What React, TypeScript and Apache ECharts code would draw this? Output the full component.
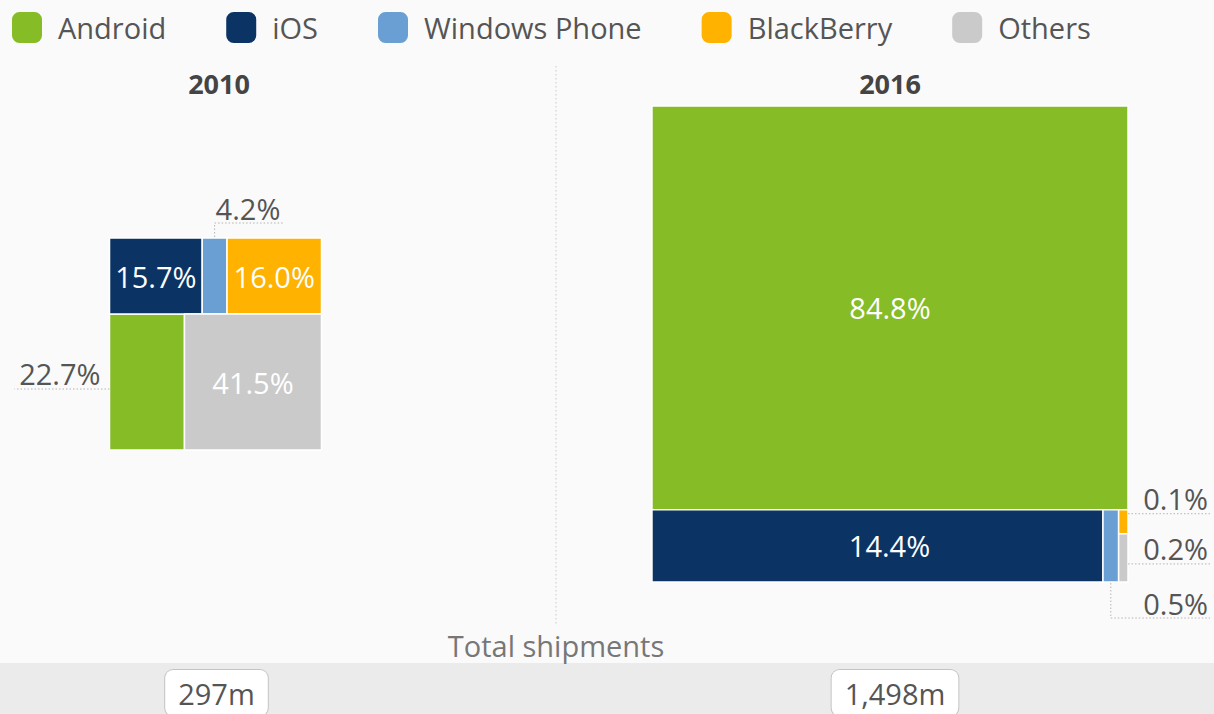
import React, { useEffect, useRef } from "react";
import * as echarts from "echarts";

// ---------- data ----------
const years = ["2010", "2016"];
const totals = [297, 1498]; // total shipments, million units
const totalLabels = ["297m", "1,498m"];
const categories = ["Android", "iOS", "Windows Phone", "BlackBerry", "Others"];
const share2010 = [22.7, 15.7, 4.2, 16.0, 41.5];
const share2016 = [84.8, 14.4, 0.5, 0.1, 0.2];
const colors = ["#86bc25", "#0b3465", "#6a9fd4", "#ffb200", "#cacaca"];

// treemap arrangement: rows top to bottom, a nested list is a stacked column
const layout2010: any[] = [["iOS", "Windows Phone", "BlackBerry"], ["Android", "Others"]];
const layout2016: any[] = [["Android"], ["iOS", "Windows Phone", ["BlackBerry", "Others"]]];

// label placement (style)
const outsideLabels: Record<string, { side: string; dy?: number }> = {
  "0|Windows Phone": { side: "top" },
  "0|Android": { side: "left", dy: 7 },
  "1|BlackBerry": { side: "right", dy: -8 },
  "1|Others": { side: "right", dy: 6 },
  "1|Windows Phone": { side: "below" },
};
const insideOffsets: Record<string, number> = { "1|iOS": 12 };

function computeRects(shares: number[], layout: any[]) {
  const val = (n: string) => shares[categories.indexOf(n)];
  const sum = (items: any[]): number =>
    items.reduce((s: number, it: any) => s + (Array.isArray(it) ? sum(it) : val(it)), 0);
  const total = sum(layout);
  const out: Record<string, number[]> = {};
  let y = 0;
  for (const row of layout) {
    const rs = sum(row);
    const h = rs / total;
    let x = 0;
    for (const it of row) {
      const v = Array.isArray(it) ? sum(it) : val(it);
      const w = v / rs;
      if (Array.isArray(it)) {
        let yy = y;
        for (const n of it) {
          const hh = (h * val(n)) / v;
          out[n] = [x, yy, x + w, yy + hh, val(n)];
          yy += hh;
        }
      } else {
        out[it] = [x, y, x + w, y + h, val(it)];
      }
      x += w;
    }
    y += h;
  }
  return out;
}

export default function App() {
  const ref = useRef<HTMLDivElement>(null);
  useEffect(() => {
    document.body.style.margin = "0";
    const chart = echarts.init(ref.current!, null, { renderer: "svg" });
    const FONT = "Open Sans";
    const FS = 29;
    const K = 12.3; // px per sqrt(million units)
    const centersX = [215.5, 890];
    const centerY = 344;
    const rects = [computeRects(share2010, layout2010), computeRects(share2016, layout2016)];
    const sides = totals.map((t) => K * Math.sqrt(t));

    const grids = years.map((_, i) => ({
      left: centersX[i] - sides[i] / 2,
      top: centerY - sides[i] / 2,
      width: sides[i],
      height: sides[i],
    }));
    const xAxes = years.map((_, i) => ({ gridIndex: i, type: "value", min: 0, max: 1, show: false }));
    const yAxes = years.map((_, i) => ({ gridIndex: i, type: "value", min: 0, max: 1, inverse: true, show: false }));

    const dotted = { stroke: "#b4b4b4", lineWidth: 1, lineDash: [1.5, 2] };
    const outText = (text: string, x: number, y: number, align: string) => ({
      type: "text",
      x,
      y,
      style: { text, fill: "#555", fontSize: FS, fontFamily: FONT, align, verticalAlign: "middle" },
    });

    const makeRender = (yi: number, cat: string) => (params: any, api: any) => {
      const p0 = api.coord([api.value(0), api.value(1)]);
      const p1 = api.coord([api.value(2), api.value(3)]);
      const share = api.value(4);
      const rx = p0[0];
      const ry = Math.min(p0[1], p1[1]);
      const rw = p1[0] - p0[0];
      const rh = Math.abs(p1[1] - p0[1]);
      const label = share.toFixed(1) + "%";
      const children: any[] = [
        {
          type: "rect",
          shape: { x: rx, y: ry, width: rw, height: rh },
          style: { fill: api.visual("color"), stroke: "#fff", lineWidth: 1.5 },
        },
      ];
      const key = yi + "|" + cat;
      const cfg = outsideLabels[key];
      const grid = grids[yi];
      const gridRight = grid.left + grid.width;
      if (!cfg) {
        children.push({
          type: "text",
          x: rx + rw / 2 + (insideOffsets[key] || 0),
          y: ry + rh / 2,
          style: { text: label, fill: "#fff", fontSize: FS, fontFamily: FONT, align: "center", verticalAlign: "middle" },
        });
      } else if (cfg.side === "top") {
        const ax = rx + rw / 2;
        const ly = ry - 15;
        children.push({ type: "polyline", shape: { points: [[ax, ry - 1], [ax, ly], [ax + 68, ly]] }, style: { ...dotted, fill: null } });
        children.push(outText(label, ax + 1, ly - 15, "left"));
      } else if (cfg.side === "left") {
        const ly = ry + rh / 2 + (cfg.dy || 0);
        children.push({ type: "line", shape: { x1: rx, y1: ly, x2: rx - 95, y2: ly }, style: dotted });
        children.push(outText(label, rx - 9, ly - 16, "right"));
      } else if (cfg.side === "right") {
        const ly = ry + rh / 2 + (cfg.dy || 0);
        const ex = gridRight + 82;
        children.push({ type: "line", shape: { x1: rx + rw, y1: ly, x2: ex, y2: ly }, style: dotted });
        children.push(outText(label, ex - 2, ly - 15, "right"));
      } else if (cfg.side === "below") {
        const ax = rx + rw / 2;
        const ly = ry + rh + 36;
        const ex = gridRight + 82;
        children.push({ type: "polyline", shape: { points: [[ax, ry + rh + 1], [ax, ly], [ex, ly]] }, style: { ...dotted, fill: null } });
        children.push(outText(label, ex - 2, ly - 15, "right"));
      }
      return { type: "group", children };
    };

    const series: any[] = [];
    years.forEach((_, yi) => {
      categories.forEach((cat, ci) => {
        series.push({
          type: "custom",
          name: cat,
          xAxisIndex: yi,
          yAxisIndex: yi,
          itemStyle: { color: colors[ci] },
          encode: { x: [0, 2], y: [1, 3] },
          data: [rects[yi][cat]],
          renderItem: makeRender(yi, cat),
          silent: true,
        });
      });
    });

    const titleDx = [3.5, 0];
    const boxDx = [1, 5];
    const graphic: any[] = [
      { type: "rect", shape: { x: 0, y: 663, width: 1214, height: 60 }, style: { fill: "#ebebeb" }, z: -10 },
      {
        type: "line",
        shape: { x1: 556, y1: 66, x2: 556, y2: 626 },
        style: { stroke: "#c8c8c8", lineWidth: 1, lineDash: [1.5, 2.5] },
      },
      {
        type: "text",
        x: 556,
        y: 645,
        style: { text: "Total shipments", fill: "#777", fontSize: FS, fontFamily: FONT, align: "center", verticalAlign: "middle" },
      },
    ];
    years.forEach((yr, i) => {
      graphic.push({
        type: "text",
        x: centersX[i] + titleDx[i],
        y: 83,
        style: { text: yr, fill: "#444", fontSize: 27, fontWeight: "bold", fontFamily: FONT, align: "center", verticalAlign: "middle" },
      });
      graphic.push({
        type: "text",
        x: centersX[i] + boxDx[i],
        y: 693,
        style: {
          text: totalLabels[i],
          fill: "#555",
          fontSize: FS,
          fontFamily: FONT,
          align: "center",
          verticalAlign: "middle",
          backgroundColor: "#fff",
          borderColor: "#c4c4c4",
          borderWidth: 1,
          borderRadius: 8,
          padding: [7, 13, 10, 13],
        },
      });
    });

    chart.setOption({
      animation: false,
      backgroundColor: "#fafafa",
      legend: {
        data: categories,
        left: 12,
        top: 12,
        padding: 0,
        icon: "roundRect",
        itemWidth: 30,
        itemHeight: 31,
        itemGap: 60,
        textStyle: { fontSize: FS, color: "#555", fontFamily: FONT, padding: [0, 0, 0, 11] },
        selectedMode: false,
      },
      grid: grids,
      xAxis: xAxes,
      yAxis: yAxes,
      series,
      graphic,
    });
    return () => chart.dispose();
  }, []);
  return <div ref={ref} style={{ width: 1214, height: 714 }} />;
}
